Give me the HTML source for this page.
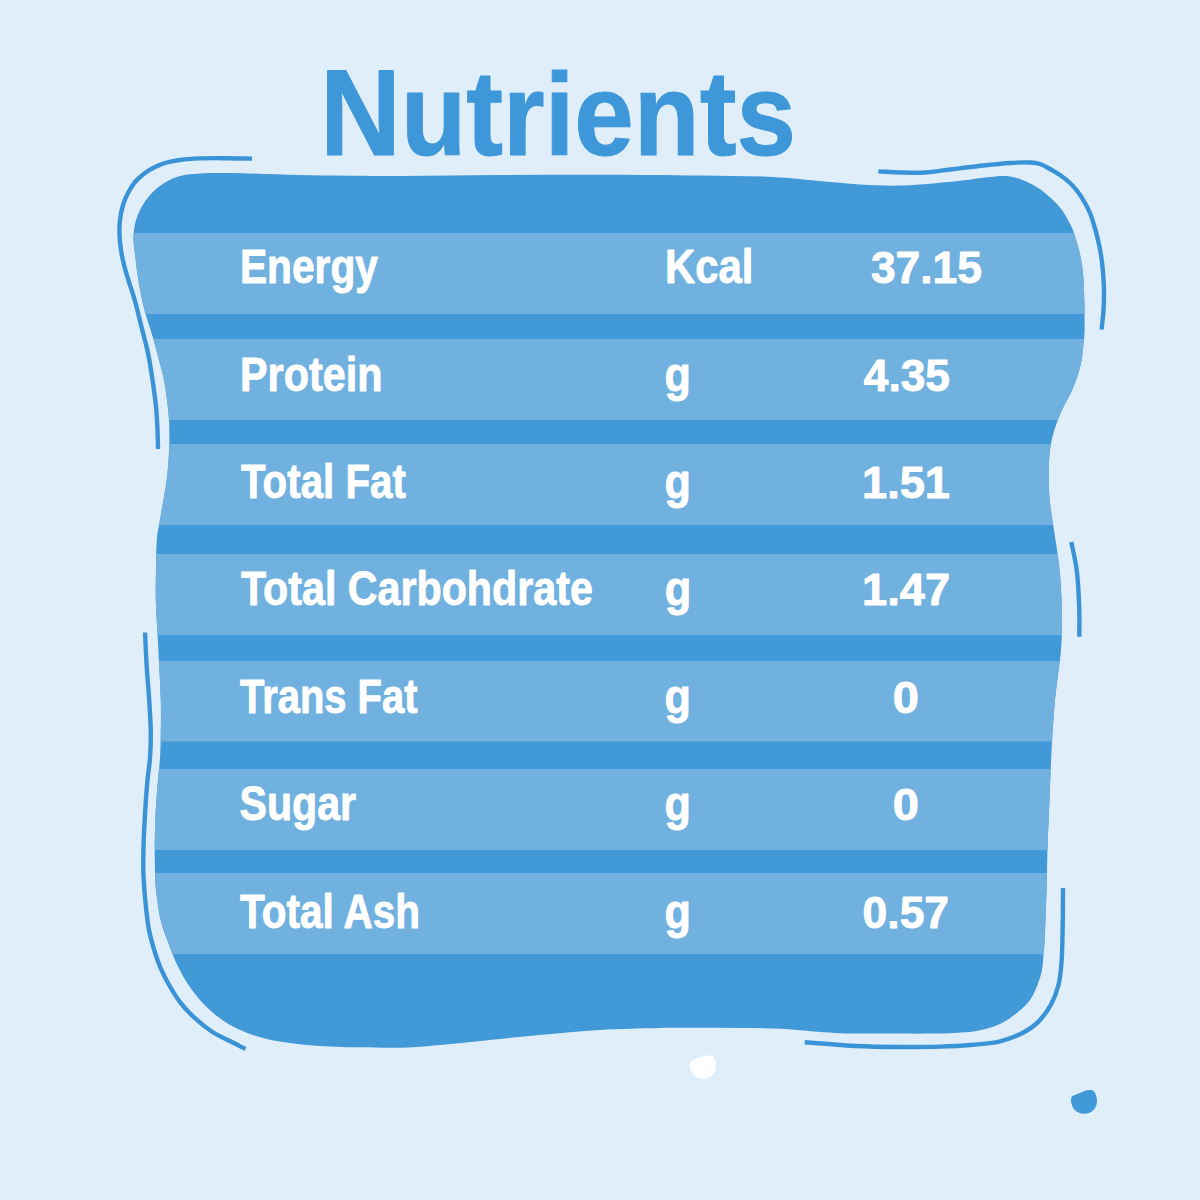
<!DOCTYPE html>
<html><head><meta charset="utf-8"><style>
html,body{margin:0;padding:0;background:#E0EEF9;width:1200px;height:1200px;overflow:hidden}
svg{display:block}
text{font-family:"Liberation Sans",sans-serif;font-weight:bold}
</style></head><body>
<svg width="1200" height="1200" viewBox="0 0 1200 1200">
<defs><clipPath id="cb"><path d="M200.00,173.50 C208.97,172.87 217.91,172.93 230.00,173.00 C248.46,173.11 274.59,174.51 300.00,175.00 C330.37,175.59 366.67,176.00 400.00,176.00 C433.33,176.00 466.67,175.22 500.00,175.00 C533.33,174.78 566.67,174.62 600.00,174.70 C633.33,174.78 669.29,175.06 700.00,175.50 C726.25,175.87 751.35,175.86 773.00,177.00 C790.40,177.92 804.96,179.72 820.00,181.00 C833.87,182.18 846.41,183.65 860.00,184.40 C874.06,185.18 887.83,185.93 903.00,185.50 C920.10,185.01 941.68,182.63 957.50,181.00 C969.74,179.74 981.23,177.83 990.00,177.00 C995.95,176.44 1000.02,175.67 1005.00,176.00 C1010.02,176.33 1015.09,177.39 1020.00,179.00 C1025.10,180.67 1030.60,183.46 1035.00,186.00 C1038.78,188.18 1041.74,190.41 1045.00,193.00 C1048.42,195.72 1052.04,199.00 1055.00,202.00 C1057.63,204.67 1059.87,207.08 1062.00,210.00 C1064.23,213.06 1066.15,216.63 1068.00,220.00 C1069.81,223.30 1071.65,226.61 1073.00,230.00 C1074.30,233.28 1075.00,236.67 1076.00,240.00 C1077.00,243.33 1078.08,246.31 1079.00,250.00 C1080.12,254.47 1081.25,259.98 1082.00,265.00 C1082.75,269.98 1083.12,274.64 1083.50,280.00 C1083.93,286.18 1084.12,293.33 1084.30,300.00 C1084.48,306.67 1084.58,314.05 1084.60,320.00 C1084.62,324.80 1084.72,328.67 1084.50,333.00 C1084.28,337.34 1083.85,341.28 1083.30,346.00 C1082.64,351.68 1082.23,358.15 1080.70,364.70 C1078.93,372.28 1075.88,381.05 1072.70,388.70 C1069.62,396.13 1065.14,402.82 1062.00,410.00 C1058.93,417.02 1056.03,424.36 1054.00,431.30 C1052.14,437.67 1050.89,443.03 1050.00,450.00 C1048.89,458.63 1048.65,470.02 1048.70,479.30 C1048.74,487.70 1049.17,495.11 1050.00,503.30 C1050.88,511.98 1052.67,521.10 1054.00,530.00 C1055.33,538.90 1056.88,547.80 1058.00,556.70 C1059.11,565.56 1060.05,573.52 1060.70,583.30 C1061.50,595.27 1062.03,611.31 1062.00,623.30 C1061.98,633.10 1061.69,641.26 1061.00,650.00 C1060.33,658.48 1059.00,666.67 1058.00,675.00 C1057.00,683.33 1055.90,690.58 1055.00,700.00 C1053.83,712.18 1052.87,726.87 1052.00,742.00 C1050.98,759.77 1050.27,781.38 1049.50,800.00 C1048.78,817.28 1047.96,835.45 1047.50,850.00 C1047.14,861.27 1047.08,870.00 1046.80,880.00 C1046.52,890.00 1046.15,900.00 1045.80,910.00 C1045.45,920.00 1045.18,931.72 1044.70,940.00 C1044.36,945.86 1043.95,950.00 1043.50,955.00 C1043.05,960.00 1042.98,965.05 1042.00,970.00 C1041.00,975.05 1039.45,980.08 1037.50,985.00 C1035.48,990.09 1033.24,995.51 1030.00,1000.00 C1026.74,1004.52 1022.62,1008.21 1018.00,1012.00 C1012.79,1016.27 1006.59,1020.89 1000.00,1024.00 C993.14,1027.24 985.07,1029.30 977.50,1030.80 C970.07,1032.27 962.71,1032.53 955.00,1033.00 C946.89,1033.49 938.71,1033.50 930.00,1033.60 C920.46,1033.71 910.72,1033.63 900.00,1033.60 C887.62,1033.57 871.05,1033.48 860.00,1033.40 C852.19,1033.34 846.86,1033.46 840.00,1033.20 C832.72,1032.93 825.95,1032.36 817.50,1031.75 C806.59,1030.96 792.71,1029.38 780.00,1028.75 C766.89,1028.10 753.33,1028.16 740.00,1028.00 C726.67,1027.84 713.33,1027.80 700.00,1027.80 C686.67,1027.80 674.68,1027.72 660.00,1028.00 C642.02,1028.34 619.99,1028.83 600.00,1030.00 C579.99,1031.17 559.56,1033.23 540.00,1035.00 C521.26,1036.70 502.41,1038.66 485.00,1040.40 C469.25,1041.98 453.73,1043.76 440.00,1045.00 C428.43,1046.04 419.75,1047.07 408.00,1047.50 C393.63,1048.03 375.95,1047.65 360.00,1047.30 C344.12,1046.95 327.86,1046.73 312.50,1045.40 C297.91,1044.13 281.97,1042.28 270.00,1039.70 C260.99,1037.75 253.82,1035.42 246.70,1032.70 C240.35,1030.27 234.88,1027.86 229.20,1024.50 C223.19,1020.94 216.80,1016.07 211.70,1011.70 C207.24,1007.88 203.77,1004.29 200.00,1000.00 C195.94,995.38 191.81,990.08 188.30,984.80 C184.82,979.58 181.71,973.79 179.00,968.50 C176.55,963.71 174.47,959.10 172.60,954.50 C170.84,950.18 169.55,945.86 168.00,941.70 C166.51,937.70 164.86,934.18 163.50,930.00 C161.99,925.35 160.54,920.03 159.50,915.00 C158.47,910.03 157.92,905.01 157.25,900.00 C156.58,895.01 155.87,890.01 155.50,885.00 C155.13,880.01 155.13,875.36 155.00,870.00 C154.85,863.81 154.71,855.52 154.70,850.00 C154.69,846.09 154.71,844.23 154.80,840.00 C154.95,832.68 155.22,819.99 155.75,810.00 C156.28,799.99 157.23,789.22 158.00,780.00 C158.66,772.10 159.53,765.57 160.00,758.00 C160.49,749.94 160.66,741.91 160.80,733.00 C160.96,722.76 161.06,711.02 160.80,700.00 C160.53,688.92 159.75,677.83 159.20,666.70 C158.65,655.50 158.07,644.17 157.50,633.00 C156.94,621.94 156.04,610.74 155.80,600.00 C155.57,589.77 155.81,580.20 156.00,570.00 C156.20,559.38 156.08,546.64 157.00,537.50 C157.68,530.74 159.00,525.83 160.00,520.00 C161.00,514.17 162.00,508.33 163.00,502.50 C164.00,496.67 165.17,490.85 166.00,485.00 C166.83,479.18 167.47,473.71 168.00,467.50 C168.60,460.48 169.12,452.70 169.30,445.00 C169.49,436.89 169.44,427.86 169.00,420.00 C168.61,412.95 167.83,406.66 167.00,400.00 C166.17,393.32 165.32,386.63 164.00,380.00 C162.66,373.30 160.75,366.76 159.00,360.00 C157.19,353.00 155.44,346.11 153.30,338.70 C150.93,330.51 147.50,321.18 145.30,313.00 C143.33,305.69 141.86,298.84 140.50,292.00 C139.22,285.53 138.26,279.65 137.30,273.00 C136.24,265.71 135.18,256.10 134.50,250.00 C134.05,245.99 133.58,243.34 133.50,240.00 C133.42,236.67 133.59,233.32 134.00,230.00 C134.42,226.65 135.02,223.29 136.00,220.00 C137.00,216.62 138.38,213.27 140.00,210.00 C141.69,206.60 143.62,203.22 146.00,200.00 C148.56,196.54 151.68,192.99 155.00,190.00 C158.34,186.99 161.97,184.29 166.00,182.00 C170.26,179.58 174.81,177.41 180.00,176.00 C185.97,174.38 192.64,174.02 200.00,173.50Z"/></clipPath></defs>
<g clip-path="url(#cb)">
<rect x="100" y="150" width="1000" height="920" fill="#4299D8"/>
<rect x="100" y="233.0" width="1000" height="81.0" fill="#71B1E0"/>
<rect x="100" y="339.0" width="1000" height="81.0" fill="#71B1E0"/>
<rect x="100" y="444.0" width="1000" height="81.0" fill="#71B1E0"/>
<rect x="100" y="554.0" width="1000" height="81.0" fill="#71B1E0"/>
<rect x="100" y="661.0" width="1000" height="80.5" fill="#71B1E0"/>
<rect x="100" y="769.0" width="1000" height="81.0" fill="#71B1E0"/>
<rect x="100" y="873.0" width="1000" height="81.0" fill="#71B1E0"/>
</g>
<path d="M252.00,158.60 C243.33,158.47 234.67,158.23 226.00,158.20 C217.33,158.17 208.09,158.05 200.00,158.40 C192.89,158.71 186.16,159.14 180.00,160.00 C174.62,160.75 169.44,161.68 165.00,163.00 C161.27,164.11 158.27,165.38 155.00,167.00 C151.60,168.69 148.22,170.62 145.00,173.00 C141.54,175.56 137.85,178.63 135.00,182.00 C132.20,185.31 130.00,189.16 128.00,193.00 C126.00,196.83 124.31,200.71 123.00,205.00 C121.58,209.66 120.58,214.98 120.00,220.00 C119.42,224.98 119.33,230.01 119.50,235.00 C119.67,240.01 120.25,245.02 121.00,250.00 C121.75,255.02 122.74,259.87 124.00,265.00 C125.36,270.52 127.25,276.26 129.00,282.00 C130.81,287.92 132.85,293.48 134.70,300.00 C136.86,307.62 138.85,316.43 141.00,325.00 C143.28,334.07 146.07,343.71 148.00,353.00 C149.88,362.04 151.16,371.01 152.50,380.00 C153.83,388.91 155.16,398.09 156.00,406.70 C156.78,414.72 157.17,422.63 157.50,430.00 C157.80,436.65 157.83,442.67 158.00,449.00" fill="none" stroke="#3A93D6" stroke-width="4.4" stroke-linecap="butt"/>
<path d="M878.40,171.40 C885.60,171.77 892.53,172.31 900.00,172.50 C908.03,172.70 916.68,173.00 925.00,172.50 C933.35,172.00 941.36,170.54 950.00,169.50 C959.31,168.38 969.17,167.07 979.00,166.00 C989.15,164.90 1000.79,163.56 1010.00,163.00 C1017.39,162.55 1024.49,162.16 1030.00,162.50 C1033.92,162.74 1036.75,162.97 1040.00,164.00 C1043.42,165.08 1046.70,167.19 1050.00,169.00 C1053.37,170.85 1056.74,172.73 1060.00,175.00 C1063.42,177.37 1066.96,180.12 1070.00,183.00 C1072.95,185.80 1075.54,188.74 1078.00,192.00 C1080.56,195.39 1082.94,199.37 1085.00,203.00 C1086.90,206.36 1088.53,209.46 1090.00,213.00 C1091.56,216.77 1092.73,220.76 1094.00,225.00 C1095.41,229.70 1096.83,234.98 1098.00,240.00 C1099.16,244.98 1100.18,249.83 1101.00,255.00 C1101.87,260.47 1102.50,266.24 1103.00,272.00 C1103.51,277.91 1103.91,283.84 1104.00,290.00 C1104.10,296.49 1103.90,303.37 1103.50,310.00 C1103.10,316.57 1102.23,323.07 1101.60,329.60" fill="none" stroke="#3A93D6" stroke-width="4.4" stroke-linecap="butt"/>
<path d="M1071.30,542.00 C1073.10,551.33 1075.39,559.79 1076.70,570.00 C1078.25,582.10 1078.91,598.00 1079.30,610.00 C1079.62,619.79 1079.30,627.80 1079.30,636.70" fill="none" stroke="#3A93D6" stroke-width="4.4" stroke-linecap="butt"/>
<path d="M1063.00,888.00 C1062.90,900.33 1062.95,912.63 1062.70,925.00 C1062.45,937.46 1062.40,951.61 1061.50,962.50 C1060.80,970.97 1060.32,977.87 1058.50,985.00 C1056.75,991.84 1054.40,998.34 1051.00,1004.50 C1047.47,1010.90 1042.56,1017.71 1037.50,1022.60 C1032.95,1026.99 1028.22,1030.02 1022.50,1033.00 C1015.94,1036.41 1008.16,1039.32 1000.00,1041.30 C990.84,1043.52 980.02,1044.12 970.00,1045.00 C960.02,1045.88 950.72,1046.26 940.00,1046.60 C927.63,1046.99 913.73,1047.08 900.00,1047.00 C885.44,1046.91 868.48,1046.65 855.00,1046.00 C843.98,1045.46 834.02,1044.42 825.00,1043.75 C817.59,1043.20 811.50,1042.75 804.75,1042.25" fill="none" stroke="#3A93D6" stroke-width="4.4" stroke-linecap="butt"/>
<path d="M145.00,632.50 C145.57,643.90 145.99,655.38 146.70,666.70 C147.40,677.88 148.52,688.92 149.20,700.00 C149.88,711.02 150.72,722.76 150.80,733.00 C150.87,741.91 150.59,749.94 150.00,758.00 C149.45,765.58 148.25,772.09 147.50,780.00 C146.63,789.22 145.88,800.00 145.25,810.00 C144.63,820.00 144.07,830.00 143.75,840.00 C143.43,850.00 143.05,860.00 143.30,870.00 C143.55,880.00 144.30,890.01 145.25,900.00 C146.20,910.01 147.20,920.77 149.00,930.00 C150.58,938.10 152.92,945.82 155.00,952.50 C156.71,957.99 158.09,962.15 160.30,967.30 C162.85,973.24 166.31,980.07 169.70,986.00 C172.96,991.71 176.20,997.13 180.20,1002.30 C184.33,1007.64 189.08,1012.72 194.20,1017.50 C199.54,1022.48 205.68,1027.54 211.70,1031.50 C217.36,1035.22 223.45,1037.83 229.20,1040.80 C234.71,1043.65 240.07,1046.27 245.50,1049.00" fill="none" stroke="#3A93D6" stroke-width="4.4" stroke-linecap="butt"/>
<path d="M689.60,1065.00 C689.67,1063.69 690.12,1062.60 690.80,1061.70 C691.49,1060.79 692.58,1060.18 693.75,1059.60 C695.15,1058.90 697.05,1058.58 698.75,1058.00 C700.53,1057.39 702.40,1056.43 704.20,1056.00 C705.88,1055.60 707.77,1055.38 709.20,1055.40 C710.27,1055.41 711.16,1055.35 712.00,1055.80 C712.99,1056.34 713.97,1057.57 714.60,1058.75 C715.29,1060.04 715.60,1061.73 715.80,1063.30 C716.01,1064.91 716.06,1066.65 715.80,1068.30 C715.54,1069.99 715.07,1071.88 714.20,1073.30 C713.37,1074.66 712.20,1075.81 710.80,1076.70 C709.21,1077.70 706.89,1078.51 705.00,1078.75 C703.30,1078.96 701.66,1078.74 700.00,1078.30 C698.19,1077.82 696.08,1076.95 694.60,1075.80 C693.20,1074.72 692.07,1073.34 691.25,1071.70 C690.31,1069.83 689.50,1066.83 689.60,1065.00Z" fill="#FFFFFF"/>
<path d="M1071.00,1099.70 C1071.12,1098.50 1071.31,1097.18 1072.10,1096.30 C1073.04,1095.26 1075.05,1094.95 1076.70,1094.25 C1078.61,1093.44 1080.80,1092.44 1082.90,1091.75 C1084.97,1091.06 1087.37,1090.24 1089.20,1090.10 C1090.59,1090.00 1091.88,1089.92 1092.90,1090.50 C1093.97,1091.11 1094.75,1092.52 1095.40,1093.80 C1096.13,1095.24 1096.69,1097.12 1096.90,1098.80 C1097.11,1100.45 1097.06,1102.17 1096.70,1103.80 C1096.32,1105.50 1095.67,1107.36 1094.60,1108.80 C1093.48,1110.31 1091.74,1111.77 1090.00,1112.60 C1088.27,1113.43 1086.14,1113.80 1084.20,1113.80 C1082.24,1113.80 1080.05,1113.44 1078.30,1112.60 C1076.57,1111.77 1074.89,1110.30 1073.75,1108.80 C1072.65,1107.35 1071.95,1105.42 1071.50,1103.80 C1071.11,1102.40 1070.88,1100.99 1071.00,1099.70Z" fill="#4299D8"/>
<text transform="scale(1.0000,1)" x="320.00" y="155.00" font-size="116.00" textLength="476.00" lengthAdjust="spacingAndGlyphs" fill="#3E97D9" stroke="#3E97D9" stroke-width="1.00" stroke-linejoin="round"><tspan font-size="121.5">N</tspan>u<tspan font-size="120">t</tspan>rie<tspan font-size="117">n</tspan><tspan font-size="120">t</tspan>s</text>
<text transform="scale(1.0000,1)" x="239.90" y="282.50" font-size="47.20" textLength="138.10" lengthAdjust="spacingAndGlyphs" fill="#fff" stroke="#fff" stroke-width="0.90" stroke-linejoin="round">Energy</text>
<text transform="scale(1.0000,1)" x="665.00" y="282.50" font-size="47.20" textLength="88.50" lengthAdjust="spacingAndGlyphs" fill="#fff" stroke="#fff" stroke-width="0.90" stroke-linejoin="round">Kcal</text>
<text transform="scale(1.0000,1)" x="870.90" y="282.50" font-size="44.00" textLength="111.10" lengthAdjust="spacingAndGlyphs" fill="#fff" stroke="#fff" stroke-width="0.90" stroke-linejoin="round">37.15</text>
<text transform="scale(1.0000,1)" x="240.00" y="391.00" font-size="47.20" textLength="142.40" lengthAdjust="spacingAndGlyphs" fill="#fff" stroke="#fff" stroke-width="0.90" stroke-linejoin="round">Protein</text>
<text transform="scale(1.0000,1)" x="664.50" y="391.00" font-size="47.20" textLength="26.30" lengthAdjust="spacingAndGlyphs" fill="#fff" stroke="#fff" stroke-width="0.90" stroke-linejoin="round">g</text>
<text transform="scale(1.0000,1)" x="863.80" y="391.00" font-size="44.00" textLength="86.20" lengthAdjust="spacingAndGlyphs" fill="#fff" stroke="#fff" stroke-width="0.90" stroke-linejoin="round">4.35</text>
<text transform="scale(1.0000,1)" x="241.00" y="498.00" font-size="47.20" textLength="164.90" lengthAdjust="spacingAndGlyphs" fill="#fff" stroke="#fff" stroke-width="0.90" stroke-linejoin="round">Total Fat</text>
<text transform="scale(1.0000,1)" x="664.50" y="498.00" font-size="47.20" textLength="26.30" lengthAdjust="spacingAndGlyphs" fill="#fff" stroke="#fff" stroke-width="0.90" stroke-linejoin="round">g</text>
<text transform="scale(1.0000,1)" x="862.00" y="498.00" font-size="44.00" textLength="88.00" lengthAdjust="spacingAndGlyphs" fill="#fff" stroke="#fff" stroke-width="0.90" stroke-linejoin="round">1.51</text>
<text transform="scale(1.0000,1)" x="241.00" y="605.30" font-size="47.20" textLength="351.80" lengthAdjust="spacingAndGlyphs" fill="#fff" stroke="#fff" stroke-width="0.90" stroke-linejoin="round">Total Carbohdrate</text>
<text transform="scale(1.0000,1)" x="664.70" y="605.30" font-size="47.20" textLength="26.50" lengthAdjust="spacingAndGlyphs" fill="#fff" stroke="#fff" stroke-width="0.90" stroke-linejoin="round">g</text>
<text transform="scale(1.0000,1)" x="862.00" y="605.30" font-size="44.00" textLength="88.10" lengthAdjust="spacingAndGlyphs" fill="#fff" stroke="#fff" stroke-width="0.90" stroke-linejoin="round">1.47</text>
<text transform="scale(1.0000,1)" x="240.00" y="713.00" font-size="47.20" textLength="177.50" lengthAdjust="spacingAndGlyphs" fill="#fff" stroke="#fff" stroke-width="0.90" stroke-linejoin="round">Trans Fat</text>
<text transform="scale(1.0000,1)" x="664.50" y="713.00" font-size="47.20" textLength="26.30" lengthAdjust="spacingAndGlyphs" fill="#fff" stroke="#fff" stroke-width="0.90" stroke-linejoin="round">g</text>
<text transform="scale(1.0000,1)" x="892.80" y="713.00" font-size="44.00" textLength="26.20" lengthAdjust="spacingAndGlyphs" fill="#fff" stroke="#fff" stroke-width="0.90" stroke-linejoin="round">0</text>
<text transform="scale(1.0000,1)" x="239.50" y="820.00" font-size="47.20" textLength="116.50" lengthAdjust="spacingAndGlyphs" fill="#fff" stroke="#fff" stroke-width="0.90" stroke-linejoin="round">Sugar</text>
<text transform="scale(1.0000,1)" x="664.50" y="820.00" font-size="47.20" textLength="26.30" lengthAdjust="spacingAndGlyphs" fill="#fff" stroke="#fff" stroke-width="0.90" stroke-linejoin="round">g</text>
<text transform="scale(1.0000,1)" x="892.80" y="820.00" font-size="44.00" textLength="26.20" lengthAdjust="spacingAndGlyphs" fill="#fff" stroke="#fff" stroke-width="0.90" stroke-linejoin="round">0</text>
<text transform="scale(1.0000,1)" x="240.00" y="927.50" font-size="47.20" textLength="180.00" lengthAdjust="spacingAndGlyphs" fill="#fff" stroke="#fff" stroke-width="0.90" stroke-linejoin="round">Total Ash</text>
<text transform="scale(1.0000,1)" x="664.50" y="927.50" font-size="47.20" textLength="26.30" lengthAdjust="spacingAndGlyphs" fill="#fff" stroke="#fff" stroke-width="0.90" stroke-linejoin="round">g</text>
<text transform="scale(1.0000,1)" x="862.60" y="927.50" font-size="44.00" textLength="86.50" lengthAdjust="spacingAndGlyphs" fill="#fff" stroke="#fff" stroke-width="0.90" stroke-linejoin="round">0.57</text>
</svg>
</body></html>
